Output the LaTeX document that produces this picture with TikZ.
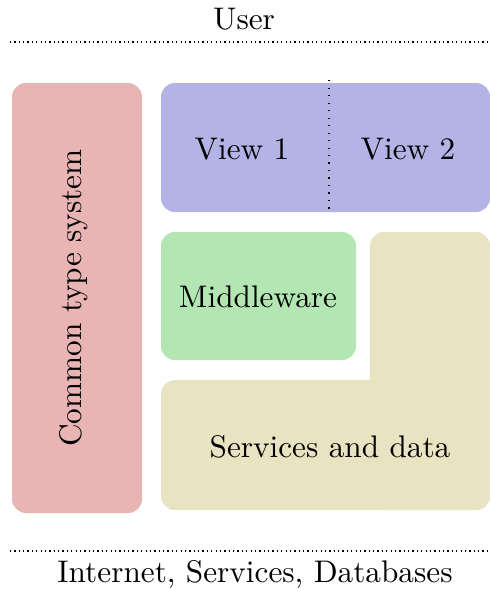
\documentclass[tikz,border=0pt]{standalone}
\usepackage{tikz}
\definecolor{cred}{RGB}{232,180,180}
\definecolor{cblue}{RGB}{179,179,230}
\definecolor{cgreen}{RGB}{179,230,179}
\definecolor{cyellow}{RGB}{232,228,194}
\begin{document}
\begin{tikzpicture}[x=0.32pt,y=-0.32pt,
  blk/.style={rounded corners=14*0.32pt},
  lbl/.style={inner sep=0pt, anchor=base},
  sep/.style={densely dotted, line width=0.4pt}]
\useasboundingbox (0,0) rectangle (489,589);
% top
\node[lbl] (user) at (244,29) {User};
\coordinate (tl) at (10,42);
\coordinate (tr) at (489,42);
\draw[sep] (tl) -- (tr);
% red
\fill[cred,blk] (12,83) rectangle (142,513);
\node[rotate=90, inner sep=0pt] (cts) at (74,298) {Common type system};
% blue
\fill[cblue,blk] (161,83) rectangle (490,212);
\coordinate (vt) at (329,80);
\coordinate (vb) at (329,212);
\draw[dotted, line width=0.4pt] (vt) -- (vb);
\node[inner sep=0pt] (v1) at (242,149) {View 1};
\node[inner sep=0pt] (v2) at (408,149) {View 2};
% green
\fill[cgreen,blk] (161,232) rectangle (356,360);
\node[inner sep=0pt] (mw) at (258,297) {Middleware};
% yellow L
\fill[cyellow,blk] (161,380) rectangle (490,510);
\fill[cyellow,blk] (370,232) rectangle (490,510);
\node[inner sep=0pt] (sd) at (330,447) {Services and data};
% bottom
\coordinate (bl) at (10,551);
\coordinate (br) at (489,551);
\draw[sep] (bl) -- (br);
\node[lbl] (inet) at (255,582) {Internet, Services, Databases};
\end{tikzpicture}
\end{document}
